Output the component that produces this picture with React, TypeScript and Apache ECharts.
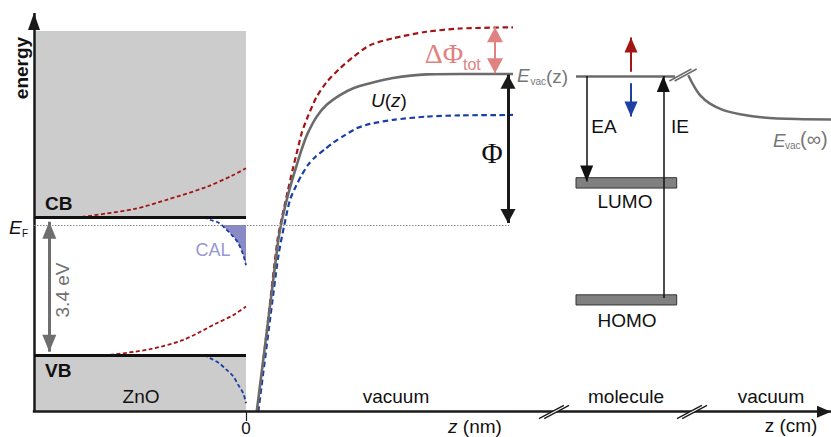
import React, { useEffect, useRef } from 'react';
import * as echarts from 'echarts';

// ---- energy levels (eV, relative to the Fermi level) ----
const E_F = 0;
const E_CB = 0.2;
const E_VB = -3.2;
const E_VAC_MOL = 3.67;
const E_ZNO_TOP = 4.78;
const E_AXIS = -4.6;
const E_AXIS_TOP = 5.22;
const LUMO = [0.91, 1.165];
const HOMO = [-1.97, -1.72];

// ---- z positions (arbitrary units, surface at 0) ----
const Z_LEFT = -21.2;
const Z_RIGHT = 58.5;
const Z_MOL = [33.0, 43.07];
const Z_VAC_END = 26.7;

// ---- vacuum potential curves U(z) ----
const uZ: [number, number][] = [
  [1.07, -4.6], [2.28, -2.24], [3.23, -0.37], [3.5, 0], [3.83, 0.37], [4.2, 0.74],
  [4.62, 1.11], [5.08, 1.48], [5.55, 1.85], [6.1, 2.22], [7.07, 2.67], [8.07, 2.96],
  [9.4, 3.2], [10.73, 3.37], [12.4, 3.49], [14.7, 3.62], [18.07, 3.71], [21.4, 3.72], [26.7, 3.72],
];
const uZUp: [number, number][] = [
  [1.15, -4.6], [2.25, -2.24], [3.15, -0.37], [3.65, 0.25], [4.2, 0.86], [4.7, 1.4],
  [5.15, 1.85], [5.6, 2.29], [6.23, 2.7], [7.07, 3.16], [8.07, 3.52], [9.4, 3.86],
  [10.73, 4.14], [12.4, 4.43], [14.7, 4.6], [18.07, 4.76], [21.4, 4.84], [26.7, 4.87],
];
const uZDown: [number, number][] = [
  [1.23, -4.6], [2.45, -2.24], [3.25, -0.74], [3.83, 0], [4.4, 0.62], [5.0, 0.96],
  [5.57, 1.23], [6.2, 1.48], [6.9, 1.67], [7.9, 1.87], [8.73, 2.03], [9.73, 2.19],
  [11.07, 2.38], [12.4, 2.49], [14.7, 2.59], [18.07, 2.67], [21.4, 2.7], [26.7, 2.71],
];
// ---- band bending inside ZnO ----
const cbUp: [number, number][] = [[-16.43, 0.2], [-11.27, 0.39], [-7.93, 0.62], [-3.93, 0.94], [-1.27, 1.23], [0, 1.4]];
const vbUp: [number, number][] = [[-13.6, -3.2], [-9.6, -3.06], [-6.27, -2.83], [-2.93, -2.42], [-1.27, -2.22], [0, -2.01]];
const cbDown: [number, number][] = [[-4.2, 0.2], [-3.6, 0.13], [-2.7, 0.05], [-1.93, -0.12], [-1.3, -0.28], [-0.77, -0.45], [-0.27, -0.74], [0, -0.99]];
const vbDown: [number, number][] = [[-4.2, -3.2], [-3.6, -3.28], [-2.7, -3.4], [-1.93, -3.57], [-1.3, -3.72], [-0.77, -3.94], [-0.27, -4.15], [0, -4.39]];
const calFill: [number, number][] = [[-2.3, 0], [-1.93, -0.12], [-1.3, -0.28], [-0.77, -0.45], [-0.27, -0.74], [0, -0.99]];
// ---- vacuum level far away ----
const evacFar: [number, number][] = [
  [44.23, 3.69], [44.73, 3.45], [45.4, 3.2], [46.4, 2.99], [47.73, 2.83], [49.4, 2.73],
  [51.73, 2.65], [55.07, 2.61], [58.5, 2.6],
];

const RED = '#a31515';
const BLUE = '#1b3fa3';
const GRAY = '#6b6b6b';
const PINK = '#e08282';
const SANS = 'Liberation Sans, Arial, sans-serif';
const SERIF = 'Liberation Serif, Times New Roman, serif';

function seg(from: number[], to: number[], color: string, width: number, headFrom: number[] | null, headTo: number[] | null, type: any = 'solid') {
  return [
    { coord: from, symbol: headFrom ? 'triangle' : 'none', symbolSize: headFrom || 1, symbolOffset: [0, '50%'], lineStyle: { color, width, type, opacity: 1 } },
    { coord: to, symbol: headTo ? 'triangle' : 'none', symbolSize: headTo || 1, symbolOffset: [0, '50%'] },
  ];
}

function curve(name: string, data: [number, number][], color: string, width: number, type: any, smooth = 0.25) {
  return {
    type: 'line', name, data, showSymbol: false, symbol: 'none', smooth,
    lineStyle: { color, width, type, cap: 'butt' }, silent: true, z: 3,
  };
}

function txt(text: string, x: number, y: number, o: any = {}) {
  const align = o.align || 'center';
  return {
    type: 'text', z: 100, x, y, rotation: o.rot || 0, silent: true,
    style: {
      text, x: 0, y: 0, fill: o.color || '#111',
      fontSize: o.size || 19, fontFamily: o.family || SANS,
      fontStyle: o.italic ? 'italic' : 'normal', fontWeight: o.bold ? 'bold' : 'normal',
      textAlign: align, textVerticalAlign: 'middle', align, verticalAlign: 'middle',
      rich: o.rich,
    },
  };
}

function breakMark(cx: number, cy: number, color: string, width: number, hx: number, hy: number) {
  const g = 2.6;
  const A1 = [cx - g - hx, cy + hy], A2 = [cx - g + hx, cy - hy];
  const B1 = [cx + g - hx, cy + hy], B2 = [cx + g + hx, cy - hy];
  return [
    { type: 'polygon', z: 100, silent: true, shape: { points: [A1, A2, B2, B1] }, style: { fill: '#fff' } },
    { type: 'line', z: 101, silent: true, shape: { x1: A1[0], y1: A1[1], x2: A2[0], y2: A2[1] }, style: { stroke: color, lineWidth: width } },
    { type: 'line', z: 101, silent: true, shape: { x1: B1[0], y1: B1[1], x2: B2[0], y2: B2[1] }, style: { stroke: color, lineWidth: width } },
  ];
}

export default function App() {
  const ref = useRef<HTMLDivElement>(null);
  useEffect(() => {
    if (!ref.current) return;
    const chart = echarts.init(ref.current, null, { renderer: 'svg' });
    const italicRich = { i: { fontStyle: 'italic', fontSize: 19, fontFamily: SANS, fill: '#111' } };
    const option: any = {
      animation: false,
      backgroundColor: '#fff',
      grid: { left: 0, right: 0, top: 0, bottom: 0 },
      xAxis: { type: 'value', min: -24.6, max: 58.5, show: false },
      yAxis: { type: 'value', min: -5.222, max: 5.542, show: false },
      series: [
        {
          type: 'line', name: 'boxes', data: [], silent: true,
          markArea: {
            silent: true, label: { show: false },
            data: [
              [{ coord: [Z_LEFT, E_CB], itemStyle: { color: '#cccccc' } }, { coord: [0, E_ZNO_TOP] }],
              [{ coord: [Z_LEFT, E_AXIS], itemStyle: { color: '#cccccc' } }, { coord: [0, E_VB] }],
              [{ coord: [Z_MOL[0], LUMO[0]], itemStyle: { color: '#808080', borderColor: '#333', borderWidth: 1 } }, { coord: [Z_MOL[1], LUMO[1]] }],
              [{ coord: [Z_MOL[0], HOMO[0]], itemStyle: { color: '#808080', borderColor: '#333', borderWidth: 1 } }, { coord: [Z_MOL[1], HOMO[1]] }],
            ],
          },
        },
        {
          type: 'line', name: 'CAL', data: calFill, showSymbol: false, symbol: 'none', smooth: 0.3, silent: true, z: 2,
          lineStyle: { width: 0 }, areaStyle: { color: '#8a8ac6', opacity: 1, origin: E_F },
        },
        curve('cbUp', cbUp, RED, 1.8, [4, 2.5], 0.3),
        curve('vbUp', vbUp, RED, 1.8, [4, 2.5], 0.3),
        curve('cbDown', cbDown, BLUE, 1.8, [4, 2.5], 0.3),
        curve('vbDown', vbDown, BLUE, 1.8, [4, 2.5], 0.3),
        curve('U up', uZUp, RED, 2.2, [5.5, 3.5]),
        curve('U down', uZDown, BLUE, 2.2, [5.5, 3.5]),
        curve('U(z)', uZ, GRAY, 2.6, 'solid'),
        {
          ...curve('Evac far', evacFar, GRAY, 2.5, 'solid', 0.3),
          markLine: {
            silent: true, animation: false, label: { show: false }, emphasis: { disabled: true },
            data: [
              seg([Z_LEFT, E_AXIS], [Z_LEFT, E_AXIS_TOP], '#1a1a1a', 2.5, null, [12, 17]),
              seg([Z_LEFT - 0.12, E_AXIS], [Z_RIGHT, E_AXIS], '#1a1a1a', 2.5, null, [12, 14]),
              seg([0, E_AXIS], [0, -4.83], '#1a1a1a', 1.2, null, null),
              seg([Z_LEFT, E_F], [Z_VAC_END - 0.4, E_F], '#8a8a8a', 1, null, null, [1.5, 1.5]),
              seg([Z_LEFT, E_CB], [0, E_CB], '#111', 3, null, null),
              seg([Z_LEFT, E_VB], [0, E_VB], '#111', 3, null, null),
              seg([-19.67, 0.08], [-19.67, -3.12], '#6e6e6e', 3, [14, 17], [14, 17]),
              seg([26.2, 0.05], [26.2, 3.7], '#1a1a1a', 3, [15, 14], [15, 14]),
              seg([24.9, 3.74], [24.9, 4.87], PINK, 2, [16, 15], [16, 15]),
              seg([Z_MOL[0], E_VAC_MOL], [42.9, E_VAC_MOL], GRAY, 2.5, null, null),
              seg([34.07, E_VAC_MOL], [34.07, 1.07], '#111', 1.5, null, [13, 16]),
              seg([41.73, -1.8], [41.73, E_VAC_MOL], '#111', 1.5, null, [13, 16]),
              seg([38.5, 3.776], [38.5, 4.62], RED, 2, null, [13, 15]),
              seg([38.5, 3.49], [38.5, 2.67], BLUE, 2, null, [13, 15]),
            ],
          },
        },
      ],
      graphic: [
        txt('energy', 21, 68, { bold: true, rot: Math.PI / 2 }),
        txt('CB', 45, 203, { bold: true, align: 'left' }),
        txt('VB', 45, 370, { bold: true, align: 'left' }),
        txt('ZnO', 141, 396),
        txt('E', 9, 227, { italic: true, align: 'left' }),
        txt('F', 22, 233, { size: 10, align: 'left' }),
        txt('3.4 eV', 62, 290, { rot: Math.PI / 2, color: '#707070' }),
        txt('CAL', 213, 250, { color: '#9898cf', size: 18 }),
        txt('0', 246, 428, { size: 17 }),
        txt('vacuum', 396, 396),
        txt('{i|z} (nm)', 475, 426, { rich: italicRich }),
        txt('molecule', 626, 396),
        txt('vacuum', 771, 396),
        txt('z (cm)', 791, 425),
        txt('{i|U}({i|z})', 389, 100, { rich: italicRich }),
        txt('Φ', 492, 153, { family: SERIF, size: 29 }),
        txt('ΔΦ', 444, 53, { family: SERIF, size: 28, color: PINK }),
        txt('tot', 463, 64, { size: 16, color: PINK, align: 'left' }),
        txt('E', 517, 75, { italic: true, color: '#777', align: 'left' }),
        txt('vac', 530.5, 81, { size: 10, color: '#777', align: 'left' }),
        txt('(z)', 546, 76, { color: '#777', align: 'left' }),
        txt('EA', 604, 126),
        txt('IE', 680, 126),
        txt('LUMO', 625, 201),
        txt('HOMO', 627, 320),
        txt('E', 773, 140, { italic: true, color: '#777', align: 'left' }),
        txt('vac', 785, 145, { size: 10, color: '#777', align: 'left' }),
        txt('(∞)', 800, 139, { color: '#777', align: 'left', size: 20 }),
        ...breakMark(554, 412, '#1a1a1a', 1.3, 12.4, 6.6),
        ...breakMark(692, 412, '#1a1a1a', 1.3, 12.4, 6.6),
        ...breakMark(683, 75, GRAY, 1.5, 11, 6),
      ],
    };
    chart.setOption(option);
    return () => chart.dispose();
  }, []);
  return <div ref={ref} style={{ position: 'absolute', left: 0, top: 0, width: 831, height: 437, background: '#fff' }} />;
}
